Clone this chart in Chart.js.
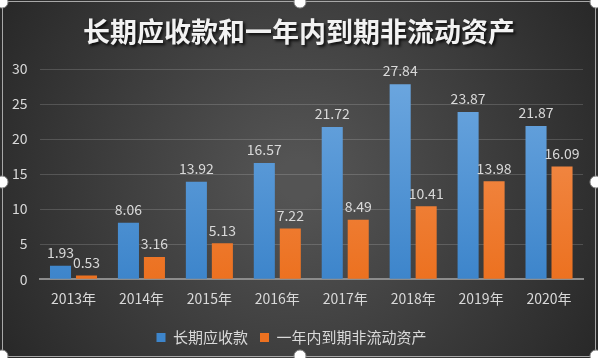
<!DOCTYPE html>
<html><head><meta charset="utf-8">
<script src="https://cdn.jsdelivr.net/npm/chart.js@4"></script>
<style>html,body{margin:0;padding:0;background:#2e2e2e}#wrap{width:598px;height:358px;position:relative}</style>
</head><body><div id="wrap"><canvas id="c" width="598" height="358"></canvas></div>
<script>
const categories = ['2013年','2014年','2015年','2016年','2017年','2018年','2019年','2020年'];
const longTermReceivables = [1.93, 8.06, 13.92, 16.57, 21.72, 27.84, 23.87, 21.87];
const currentNonCurrentAssets = [0.53, 3.16, 5.13, 7.22, 8.49, 10.41, 13.98, 16.09];
const seriesNames = ['长期应收款', '一年内到期非流动资产'];
const yTicks = [0, 5, 10, 15, 20, 25, 30];
const titleText = '长期应收款和一年内到期非流动资产';
const FONT = '"Noto Sans CJK SC", "Noto Sans", sans-serif';

function grad(ctx, top, bottom) {
  const ch = ctx.chart, a = ch.chartArea;
  if (!a) return bottom;
  const g = ch.ctx.createLinearGradient(0, a.top, 0, a.bottom);
  g.addColorStop(0, top); g.addColorStop(1, bottom);
  return g;
}

const bgPlugin = {
  id: 'bg',
  beforeDraw(chart) {
    const c = chart.ctx, w = chart.width, h = chart.height;
    c.save();
    const g = c.createRadialGradient(w/2, h/2, 20, w/2, h/2, 360);
    g.addColorStop(0, '#545454');
    g.addColorStop(1, '#262626');
    c.fillStyle = g; c.fillRect(0, 0, w, h);
    c.restore();
  },
  afterDraw(chart) {
    const c = chart.ctx, w = chart.width, h = chart.height;
    c.save();
    c.strokeStyle = '#a8a8a8'; c.lineWidth = 1;
    c.strokeRect(2.5, 1.5, w - 5, h - 3);
    const pts = [[2,2],[300,2],[w-2,2],[2,182],[w-2,182],[2,h-2],[300,h-2],[w-2,h-2]];
    pts.forEach(p => {
      c.beginPath(); c.arc(p[0], p[1], 6, 0, Math.PI*2);
      c.fillStyle = '#ffffff'; c.fill();
      c.strokeStyle = '#8a8a8a'; c.stroke();
    });
    c.restore();
  }
};

const labelPlugin = {
  id: 'vlabels',
  afterDatasetsDraw(chart) {
    const c = chart.ctx;
    c.save();
    c.font = '14px ' + FONT;
    c.fillStyle = '#d9d9d9';
    c.textAlign = 'center'; c.textBaseline = 'bottom';
    chart.data.datasets.forEach((ds, i) => {
      chart.getDatasetMeta(i).data.forEach((bar, j) => {
        c.fillText(ds.data[j].toFixed(2), bar.x, bar.y - 6);
      });
    });
    c.restore();
  }
};

const titlePlugin = {
  id: 'ttl',
  afterDraw(chart) {
    const c = chart.ctx;
    c.save();
    c.font = 'bold 27px ' + FONT;
    c.textAlign = 'center'; c.textBaseline = 'middle';
    c.shadowColor = 'rgba(0,0,0,0.8)'; c.shadowOffsetX = 2; c.shadowOffsetY = 2; c.shadowBlur = 3;
    c.fillStyle = '#f2f2f2';
    c.fillText(titleText, 299, 32);
    c.restore();
  }
};

new Chart(document.getElementById('c'), {
  type: 'bar',
  data: {
    labels: categories,
    datasets: [
      { label: seriesNames[0], data: longTermReceivables,
        backgroundColor: ctx => grad(ctx, '#6ea8e0', '#3d85cb') },
      { label: seriesNames[1], data: currentNonCurrentAssets,
        backgroundColor: ctx => grad(ctx, '#f4955a', '#ec7120') }
    ]
  },
  options: {
    responsive: false, animation: false,
    devicePixelRatio: 1,
    layout: { padding: { top: 69, left: 0, right: 15, bottom: 3 } },
    datasets: { bar: { categoryPercentage: 0.765, barPercentage: 0.81 } },
    plugins: {
      legend: {
        position: 'bottom',
        labels: { color: '#d9d9d9', font: { size: 15, family: FONT }, boxWidth: 9, boxHeight: 9, padding: 12 }
      },
      tooltip: { enabled: false }
    },
    scales: {
      x: {
        grid: { display: false, drawTicks: false },
        border: { color: '#8c8c8c', width: 2 },
        ticks: { color: '#d9d9d9', font: { size: 14, family: FONT }, padding: 11 }
      },
      y: {
        min: 0, max: 30,
        afterBuildTicks: ax => { ax.ticks = yTicks.map(v => ({ value: v })); },
        grid: { color: 'rgba(255,255,255,0.16)', drawTicks: false },
        border: { display: false },
        ticks: { color: '#d9d9d9', font: { size: 14, family: FONT }, padding: 12 }
      }
    }
  },
  plugins: [bgPlugin, labelPlugin, titlePlugin]
});
</script></body></html>
